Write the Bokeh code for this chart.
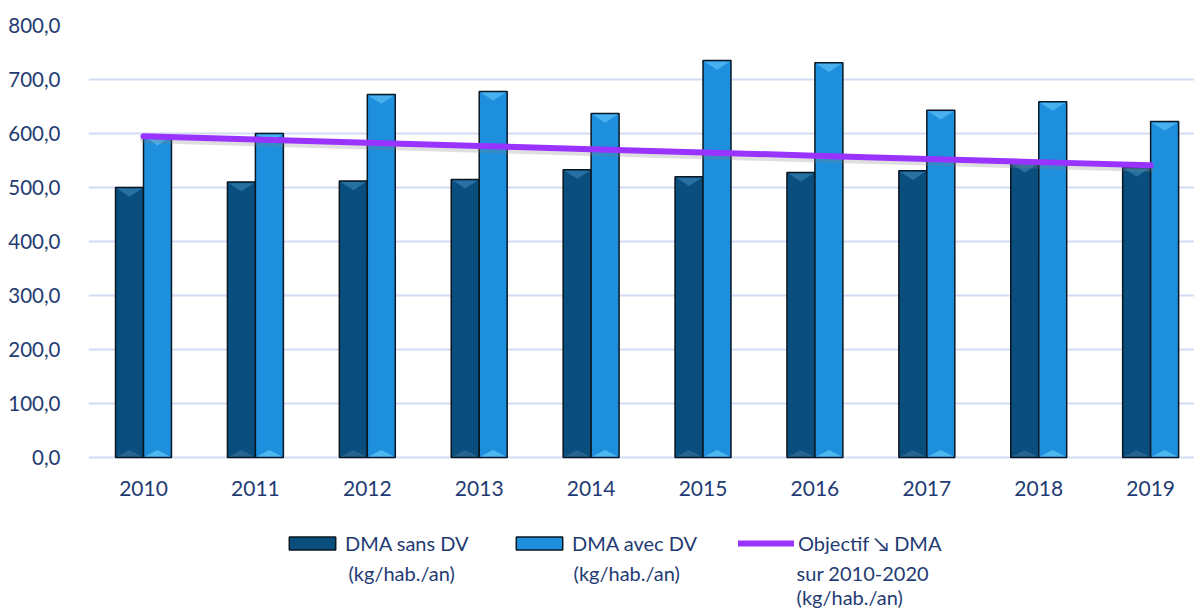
from bokeh.plotting import figure
from bokeh.models import Range1d, ColumnDataSource, Legend, LegendItem, FixedTicker, Label
from bokeh.core.properties import value
from bokeh.transform import dodge
from bokeh.embed import file_html
from bokeh.resources import INLINE

years = ["2010", "2011", "2012", "2013", "2014", "2015", "2016", "2017", "2018", "2019"]
dma_sans_dv = [500, 510, 512, 515, 533, 520, 528, 531, 545, 537]
dma_avec_dv = [595, 600, 672, 678, 637, 735, 731, 643, 659, 622]
objectif = [595, 589, 583, 577, 571, 565, 559, 553, 547, 541]
y_ticks = [0, 100, 200, 300, 400, 500, 600, 700, 800]
y_tick_labels = ["0,0", "100,0", "200,0", "300,0", "400,0", "500,0", "600,0", "700,0", "800,0"]
legend_first = ["DMA sans DV", "DMA avec DV", "Objectif \u2198 DMA"]
legend_more = [["(kg/hab./an)"], ["(kg/hab./an)"], ["sur 2010-2020", "(kg/hab./an)"]]

FONT = "Lato"
TXT = "#1F3B73"
BAR_W = 0.25
OFFS = [-0.125, 0.125]
BEVEL_TOP = 17     # depth of the top bevel, in data units (~9 px)
BEVEL_BOT = 14     # depth of the bottom bevel

xs_idx = list(range(len(years)))
src = ColumnDataSource(dict(x=xs_idx, year=years, zero=[0] * len(years),
                            sans=dma_sans_dv, avec=dma_avec_dv, obj=objectif,
                            obj_shadow=[v - 6 for v in objectif]))

p = figure(width=1194, height=610, output_backend="svg", toolbar_location=None,
           x_range=Range1d(-0.4915, 9.392), y_range=Range1d(-283.3, 800))
p.min_border_left = 88
p.min_border_right = 0
p.min_border_top = 25
p.min_border_bottom = 0
p.outline_line_color = None

r1 = p.vbar(x=dodge("x", OFFS[0], range=p.x_range), top="sans", width=BAR_W, bottom=0,
            source=src, fill_color="#0A4E7E", line_color="#0A1620", line_width=1.5)
r2 = p.vbar(x=dodge("x", OFFS[1], range=p.x_range), top="avec", width=BAR_W, bottom=0,
            source=src, fill_color="#1E8FDD", line_color="#0A1620", line_width=1.5)


def bevels(vals, off):
    tx, ty, bx, by = [], [], [], []
    hw = BAR_W / 2 - 0.012
    for i, v in enumerate(vals):
        c = i + off
        tx.append([c - hw, c + hw, c])
        ty.append([v - 2, v - 2, v - BEVEL_TOP])
        bx.append([c - hw, c + hw, c])
        by.append([2, 2, BEVEL_BOT])
    return tx, ty, bx, by


for vals, off, ctop, cbot in [(dma_sans_dv, OFFS[0], "#2A74A6", "#2F6A93"),
                              (dma_avec_dv, OFFS[1], "#4DB4F0", "#5CC2F6")]:
    tx, ty, bx, by = bevels(vals, off)
    p.patches(tx, ty, fill_color=ctop, line_color=None, fill_alpha=0.9)
    p.patches(bx, by, fill_color=cbot, line_color=None, fill_alpha=0.8)

p.line(x="x", y="obj_shadow", source=src, line_width=7, line_color="#808080",
       line_alpha=0.25, line_cap="round")
r3 = p.line(x="x", y="obj", source=src, line_width=6, line_color="#9933FF", line_cap="round")

# year labels under the bars
p.text(x="x", y="zero", text="year", source=src, y_offset=31, text_align="center",
       text_baseline="middle", text_font=value(FONT), text_font_size="21px", text_color=TXT)

p.xaxis.visible = False
p.yaxis.ticker = FixedTicker(ticks=y_ticks)
p.yaxis.major_label_overrides = {t: l for t, l in zip(y_ticks, y_tick_labels)}
p.yaxis.axis_line_color = None
p.yaxis.major_tick_line_color = None
p.yaxis.minor_tick_line_color = None
p.yaxis.major_label_text_font = FONT
p.yaxis.major_label_text_font_size = "20.5px"
p.yaxis.major_label_text_color = TXT
p.yaxis.major_label_standoff = 22
p.xgrid.grid_line_color = None
p.ygrid.ticker = FixedTicker(ticks=y_ticks)
p.ygrid.grid_line_color = "#D3DCF5"
p.ygrid.grid_line_width = 2

# legends (one per item: glyph + first line; further lines as labels)
legend_x = [195, 422, 650]
text_x = [1.832, 3.843, 5.836]
for i, r in enumerate([r1, r2, r3]):
    lg = Legend(items=[LegendItem(label=legend_first[i], renderers=[r])],
                location=(legend_x[i], 55),
                label_text_font=FONT, label_text_font_size="20px", label_text_color=TXT,
                glyph_width=58 if i < 2 else 56, glyph_height=16, label_standoff=4,
                border_line_color=None, background_fill_alpha=0, padding=0, margin=0)
    p.add_layout(lg, "center")
    for j, t in enumerate(legend_more[i]):
        p.add_layout(Label(x=text_x[i], y=-213 - 46 * j, text=t, text_font=FONT,
                           text_font_size="20px", text_color=TXT, text_baseline="middle"))

open("out.html", "w").write(file_html(p, INLINE))
